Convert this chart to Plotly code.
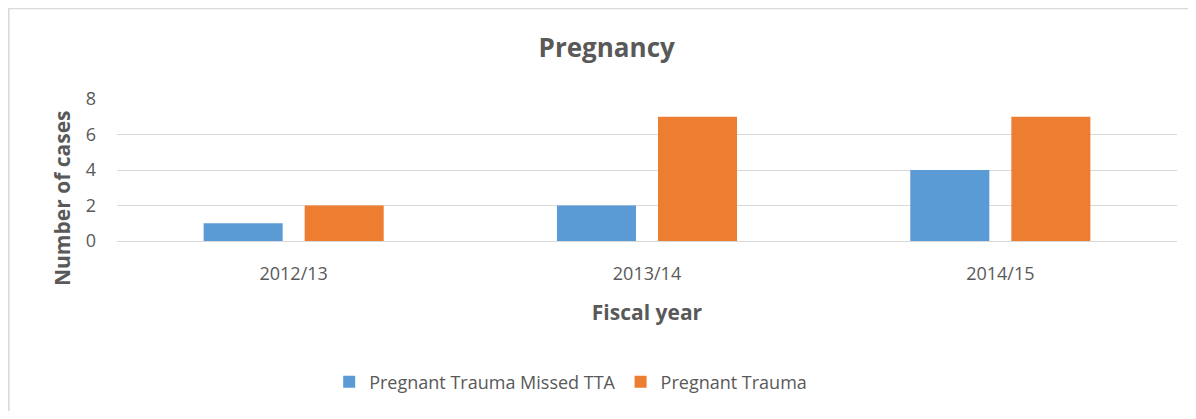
import plotly.graph_objects as go

years = ["2012/13", "2013/14", "2014/15"]
missed_tta = [1, 2, 4]
pregnant_trauma = [2, 7, 7]
y_ticks = [0, 2, 4, 6, 8]

font_family = "Open Sans, Noto Sans, sans-serif"
grey_text = "#595959"

# the page body adds an 8px offset, so the figure is sized to the remaining window
W, H = 1180, 403
L, R, T, B = 109, 11, 91, 170
plot_w, plot_h = W - L - R, H - T - B

fig = go.Figure()
fig.add_trace(
    go.Bar(
        x=years,
        y=missed_tta,
        name="Pregnant Trauma Missed TTA",
        marker=dict(color="#5B9BD5", line=dict(width=0)),
    )
)
fig.add_trace(
    go.Bar(
        x=years,
        y=pregnant_trauma,
        name="Pregnant Trauma",
        marker=dict(color="#ED7D31", line=dict(width=0)),
    )
)

fig.update_layout(
    width=W,
    height=H,
    margin=dict(l=L, r=R, t=T, b=B, autoexpand=False),
    paper_bgcolor="white",
    plot_bgcolor="white",
    barmode="group",
    bargap=0.428,
    bargroupgap=0.218,
    font=dict(family=font_family, color=grey_text, size=18),
    title=dict(
        text="<b>Pregnancy</b>",
        x=0.462,
        xref="paper",
        xanchor="center",
        y=1 - 40 / H,
        yref="container",
        yanchor="middle",
        font=dict(size=26, color=grey_text),
    ),
    legend=dict(
        orientation="h",
        x=0.428,
        xanchor="center",
        y=(plot_h - (374 - T)) / plot_h,
        yanchor="middle",
        font=dict(size=18, color=grey_text),
        itemwidth=30,
        traceorder="normal",
    ),
    showlegend=True,
)

fig.update_xaxes(
    showgrid=False,
    showline=False,
    ticks="",
    ticklabelstandoff=20,
    tickfont=dict(size=18, color=grey_text),
    title=dict(text="<b>Fiscal year</b>", font=dict(size=21, color=grey_text), standoff=21),
)
fig.update_yaxes(
    range=[0, 8],
    tickvals=y_ticks,
    showgrid=True,
    gridcolor="#D9D9D9",
    gridwidth=1.3,
    zeroline=True,
    zerolinecolor="#D9D9D9",
    zerolinewidth=1.3,
    showline=False,
    ticks="",
    ticklabelstandoff=20,
    tickfont=dict(size=18, color=grey_text),
)

# y-axis title sits lower than the plot centre in the original, so place it by hand
fig.add_annotation(
    text="<b>Number of cases</b>",
    textangle=-90,
    xref="paper",
    yref="paper",
    x=(54 - L) / plot_w,
    y=(T + plot_h - 190) / plot_h,
    xanchor="center",
    yanchor="middle",
    showarrow=False,
    font=dict(size=21, color=grey_text),
)

# outer chart frame (only left and top edges are visible in the crop)
fig.add_shape(
    type="rect",
    xref="paper",
    yref="paper",
    x0=(0.8 - L) / plot_w,
    x1=(W + 20 - L) / plot_w,
    y0=(T + plot_h - (H + 20)) / plot_h,
    y1=(T + plot_h - 0.5) / plot_h,
    line=dict(color="#D9D9D9", width=1.5),
    fillcolor="rgba(0,0,0,0)",
    layer="below",
)

fig.write_html("out.html")
